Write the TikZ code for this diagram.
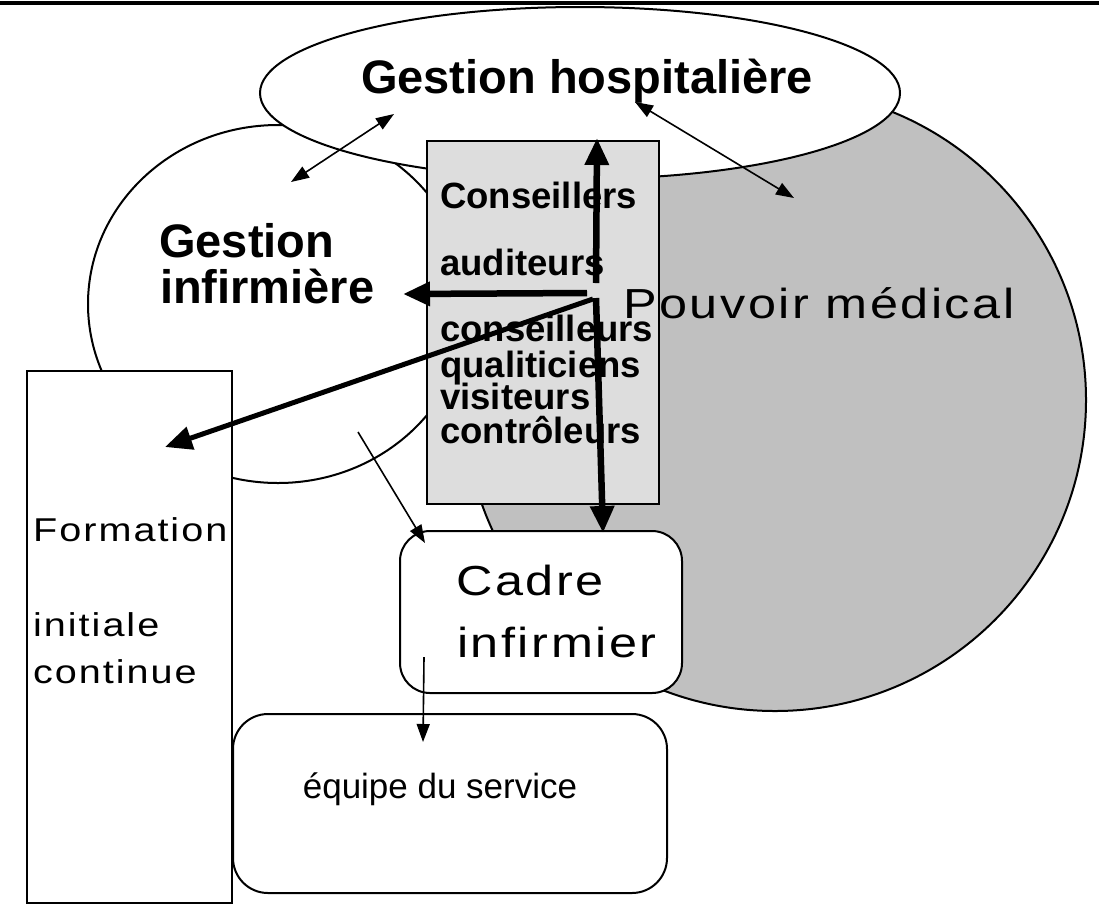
\documentclass[tikz,border=0pt]{standalone}
\usepackage{fontspec}
\setmainfont{Liberation Sans}
\newfontfamily\trackfont[FakeStretch=1.2, LetterSpace=6]{Liberation Sans}
\usepackage{tikz}
\usetikzlibrary{shapes.geometric,arrows.meta}
\definecolor{medgray}{HTML}{C0C0C0}
\definecolor{panelgray}{HTML}{DDDDDD}
\tikzset{
  blob/.style={
    draw,
    ellipse,
    inner sep=0pt,
    line width=2pt,
    fill=white,
  },
  panel/.style={
    draw,
    rectangle,
    inner sep=0pt,
    line width=2pt,
    fill=white,
  },
  roundpanel/.style={panel, rounded corners=30pt},
  headtxt/.style={inner sep=0pt, font=\fontsize{47}{46}\selectfont\bfseries},
  listtxt/.style={inner sep=0pt, anchor=base west, font=\fontsize{36.5}{36}\selectfont\bfseries},
  widetxt/.style={inner sep=0pt, anchor=base west},
  link/.style={line width=1.6pt, -{Triangle[length=18pt,width=13pt]}},
  duallink/.style={line width=1.6pt, {Triangle[length=18pt,width=13pt]}-{Triangle[length=18pt,width=13pt]}},
  flow/.style={line width=6.5pt, -{Triangle[length=27pt,width=23pt]}},
}

\begin{document}
\begin{tikzpicture}[x=1pt, y=-1pt]
  \useasboundingbox (0,0) rectangle (1099,906);
  \coordinate (ruleL) at (0,2.5);
  \coordinate (ruleR) at (1099,2.5);
  \draw[line width=4pt] (ruleL) -- (ruleR);

  % shapes
  \node[blob, circle, fill=medgray, minimum size=622pt] (med) at (775,400) {};
  \node[blob, minimum width=380pt, minimum height=358pt] (infi) at (278,304) {};
  \node[blob, minimum width=640pt, minimum height=172pt] (hosp) at (580,93) {};
  \node[panel, fill=panelgray, minimum width=232pt, minimum height=363pt] (conseil) at (543,322.5) {};
  \node[panel, minimum width=205pt, minimum height=532pt] (form) at (129.5,637) {};
  \node[roundpanel, minimum width=282pt, minimum height=162pt] (cadre) at (541,612) {};
  \node[roundpanel, rounded corners=35pt, minimum width=434pt, minimum height=179pt] (equipe) at (450,803.5) {};

  % texts
  \node[headtxt, anchor=base] (hospT) at (587,93) {Gestion hospitalière};
  \node[headtxt, anchor=base west] (infiT1) at (159,257) {Gestion};
  \node[headtxt, anchor=base west] (infiT2) at (160,303) {infirmière};
  \foreach \nm/\word/\yy in {lst1/Conseillers/208, lst2/auditeurs/275, lst3/conseilleurs/341,
      lst4/qualiticiens/377, lst5/visiteurs/409, lst6/contrôleurs/443}
    \node[listtxt] (\nm) at (440,\yy) {\word};
  \node[widetxt, font=\fontsize{42}{42}\selectfont\trackfont] (medT) at (623,318) {Pouvoir médical};
  \node[widetxt, font=\fontsize{42}{42}\selectfont\trackfont] (cadreT1) at (456,595) {Cadre};
  \node[widetxt, font=\fontsize{42}{42}\selectfont\trackfont] (cadreT2) at (457,657) {infirmier};
  \node[widetxt, font=\fontsize{33}{33}\selectfont\trackfont] (formT1) at (33,541) {Formation};
  \node[widetxt, font=\fontsize{33}{33}\selectfont\trackfont] (formT2) at (33,636) {initiale};
  \node[widetxt, font=\fontsize{33}{33}\selectfont\trackfont] (formT3) at (33,683) {continue};
  \node[inner sep=0pt, anchor=base, font=\fontsize{35}{35}\selectfont] (equipeT) at (440,798) {équipe du service};

  % arrows
  \coordinate (p1) at (291,182);
  \coordinate (p2) at (394,114);
  \coordinate (p3) at (635,102);
  \coordinate (p4) at (794,198);
  \coordinate (hub1) at (596,283);
  \coordinate (top) at (597,138);
  \coordinate (hub2) at (587,293);
  \coordinate (gi) at (403,294);
  \coordinate (hub3) at (596,298);
  \coordinate (ci) at (603,533);
  \coordinate (hub4) at (593,299);
  \coordinate (fo) at (165,447);
  \coordinate (q1) at (358,432);
  \coordinate (q2) at (425,543);
  \coordinate (q3) at (424,657);
  \coordinate (q4) at (423,742);
  \draw[duallink] (p1) -- (p2);
  \draw[duallink] (p3) -- (p4);
  \draw[flow] (hub1) -- (top);
  \draw[flow] (hub2) -- (gi);
  \draw[flow] (hub3) -- (ci);
  \draw[flow, line width=5pt] (hub4) -- (fo);
  \draw[link] (q1) -- (q2);
  \draw[link] (q3) -- (q4);
\end{tikzpicture}
\end{document}
